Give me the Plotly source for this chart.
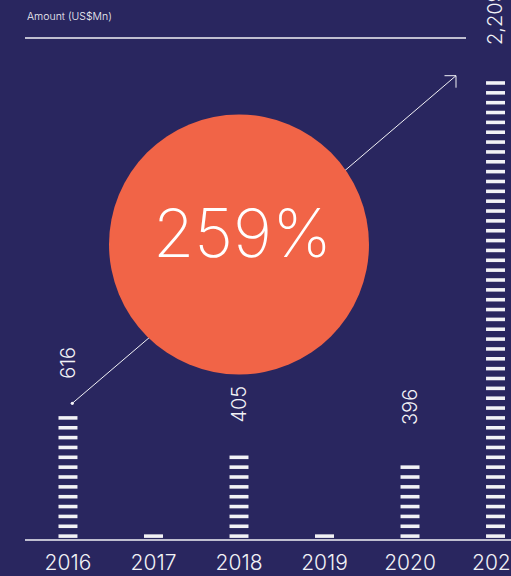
import plotly.graph_objects as go

# Yearly amounts (US$Mn)
years = ["2016", "2017", "2018", "2019", "2020", "2021"]
amounts = [616, 23, 405, 18, 396, 2209]
growth_label = "259%"
axis_title = "Amount (US$Mn)"

# Styling
BG = "#29265f"
ACCENT = "#f16447"
INK = "#f2f2f6"
FONT = "Inter"

W, H = 511, 576
BASE_PX = 540                    # baseline position from the top, in pixels
K = 0.2096                       # pixels per US$Mn
Y_LO = -(H - BASE_PX) / K        # plot area spans the whole figure
Y_TOP = BASE_PX / K
X_LO, X_HI = -0.795, 5.181       # category axis range
YEAR_Y = -25 / K                 # year labels sit just under the baseline

# Striped bars: each bar is a stack of thin bands
STEP = 47     # value covered by one band
THICK = 17    # band thickness in value units
GAP = 10      # offset of first band above the baseline

bx, by, bbase = [], [], []
for i, v in enumerate(amounts):
    n = max(1, round(v / STEP))
    for k in range(n):
        bx.append(i)
        by.append(THICK)
        bbase.append(GAP + k * STEP)

fig = go.Figure()
fig.add_trace(go.Bar(
    x=bx, y=by, base=bbase, width=0.222,
    marker=dict(color=INK, line=dict(width=0)),
    hoverinfo="skip", showlegend=False,
))
# year labels, clipped at the right edge of the figure
fig.add_trace(go.Scatter(
    x=list(range(len(years))), y=[YEAR_Y] * len(years), text=years,
    mode="text", textposition="middle center", cliponaxis=True,
    textfont=dict(family=FONT, size=21, color=INK, weight=300),
    hoverinfo="skip", showlegend=False,
))


def px(x):
    return x / W


def py(y):
    return (H - y) / H


shapes = []
# header rule and baseline
shapes.append(dict(type="line", xref="paper", yref="paper",
                   x0=px(25), x1=px(466), y0=py(38), y1=py(38),
                   line=dict(color=INK, width=1.3)))
shapes.append(dict(type="line", xref="paper", yref="y",
                   x0=px(25), x1=1, y0=0, y1=0,
                   line=dict(color=INK, width=1.5)))
# growth arrow (drawn beneath the circle)
tail = (72.3, 403.3)
tip = (456, 75.7)
shapes.append(dict(type="line", xref="paper", yref="paper",
                   x0=px(tail[0]), y0=py(tail[1]), x1=px(tip[0]), y1=py(tip[1]),
                   line=dict(color=INK, width=1)))
shapes.append(dict(type="path", xref="paper", yref="paper",
                   path=(f"M{px(tip[0]-11.5)},{py(tip[1])} L{px(tip[0])},{py(tip[1])} "
                         f"L{px(tip[0])},{py(tip[1]+12)}"),
                   line=dict(color=INK, width=1)))
shapes.append(dict(type="circle", xref="paper", yref="paper",
                   x0=px(tail[0]-1.6), x1=px(tail[0]+1.6),
                   y0=py(tail[1]+1.6), y1=py(tail[1]-1.6),
                   fillcolor=INK, line=dict(width=0)))
# highlight circle
cx, cy, r = 239, 244.5, 130
shapes.append(dict(type="circle", xref="paper", yref="paper",
                   x0=px(cx - r), x1=px(cx + r), y0=py(cy + r), y1=py(cy - r),
                   fillcolor=ACCENT, line=dict(width=0)))

annotations = [
    dict(text=axis_title, xref="paper", yref="paper", x=px(25), y=py(16),
         xanchor="left", yanchor="middle", showarrow=False,
         font=dict(family=FONT, size=10.5, color=INK, weight=300)),
    dict(text=growth_label, xref="paper", yref="paper", x=px(242), y=py(232.5),
         xanchor="center", yanchor="middle", showarrow=False,
         font=dict(family=FONT, size=67, color="#ffffff", weight=200)),
]
for i, v in enumerate(amounts):
    if v > 100:
        annotations.append(dict(
            text=f"{v:,}", x=i, y=v, xref="x", yref="y",
            xanchor="center", yanchor="bottom", textangle=-90, yshift=30,
            showarrow=False,
            font=dict(family=FONT, size=20, color=INK, weight=300)))

fig.update_layout(
    width=W, height=H,
    margin=dict(l=0, r=0, t=0, b=0),
    paper_bgcolor=BG, plot_bgcolor=BG,
    barmode="overlay",
    shapes=shapes, annotations=annotations,
    xaxis=dict(range=[X_LO, X_HI], visible=False, fixedrange=True),
    yaxis=dict(range=[Y_LO, Y_TOP], visible=False, fixedrange=True),
)

fig.write_html("out.html")
